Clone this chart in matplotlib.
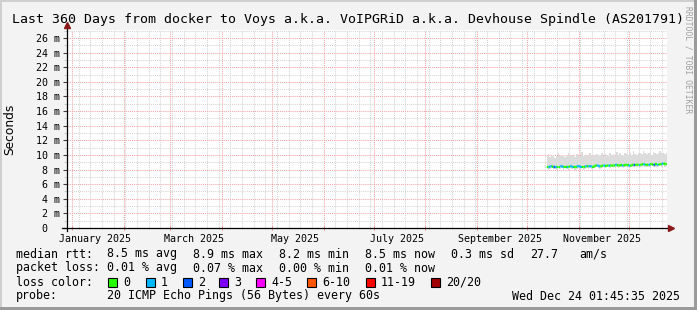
import numpy as np
import pandas as pd
import matplotlib
matplotlib.use("Agg")
import matplotlib.pyplot as plt
import matplotlib.dates as mdates
from matplotlib.collections import LineCollection
from matplotlib.patches import Rectangle

W, H = 697, 310
MONO = "DejaVu Sans Mono"

# time window of the graph
t_start = pd.Timestamp("2024-12-29 01:45:35")
t_end = pd.Timestamp("2025-12-24 01:45:35")
data_start = "2025-10-13"

# daily median rtt (ms), smoke extent (ms) and loss class per day
median_ms = [8.4, 8.3, 8.4, 8.5, 8.3, 8.4, 8.3, 8.4, 8.4, 8.5,
             8.3, 8.4, 8.4, 8.3, 8.5, 8.4, 8.4, 8.3, 8.4, 8.5,
             8.4, 8.4, 8.3, 8.4, 8.5, 8.4, 8.5, 8.4, 8.4, 8.5,
             8.6, 8.5, 8.4, 8.5, 8.6, 8.5, 8.5, 8.6, 8.5, 8.6,
             8.5, 8.6, 8.7, 8.5, 8.6, 8.6, 8.5, 8.7, 8.6, 8.6,
             8.5, 8.6, 8.7, 8.6, 8.7, 8.6, 8.6, 8.7, 8.8, 8.6,
             8.7, 8.6, 8.7, 8.8, 8.6, 8.7, 8.7, 8.6, 8.8, 8.7,
             8.9, 8.7, 8.8]
smoke_hi = [9.8, 10.1, 9.7, 9.9, 10.0, 9.6, 9.9, 10.2, 9.8, 9.9,
            10.0, 9.7, 9.9, 10.3, 9.8, 9.9, 10.0, 9.7, 10.1, 9.9,
            9.8, 10.4, 9.9, 10.0, 9.8, 9.9, 10.2, 9.9, 10.0, 9.8,
            10.1, 9.9, 10.0, 10.3, 9.9, 10.1, 10.0, 9.8, 10.2, 10.0,
            10.1, 9.9, 10.4, 10.0, 10.2, 10.0, 9.9, 10.3, 10.1, 10.0,
            10.2, 10.0, 10.5, 10.1, 10.0, 10.2, 10.3, 10.1, 10.6, 10.2,
            10.1, 10.3, 10.2, 10.0, 10.4, 10.2, 10.1, 10.3, 10.5, 10.2,
            10.3, 10.1, 10.2]
smoke_lo = [8.1, 8.0, 8.1, 8.2, 8.1, 8.1, 8.0, 8.2, 8.1, 8.2,
            8.0, 8.2, 8.1, 8.0, 8.2, 8.1, 8.2, 8.0, 8.1, 8.2,
            8.1, 8.2, 8.0, 8.1, 8.2, 8.1, 8.2, 8.1, 8.2, 8.2,
            8.3, 8.2, 8.1, 8.2, 8.3, 8.2, 8.3, 8.3, 8.2, 8.3,
            8.2, 8.3, 8.4, 8.2, 8.3, 8.3, 8.2, 8.4, 8.3, 8.3,
            8.2, 8.3, 8.4, 8.3, 8.4, 8.3, 8.3, 8.4, 8.5, 8.3,
            8.4, 8.3, 8.4, 8.5, 8.3, 8.4, 8.4, 8.3, 8.5, 8.4,
            8.6, 8.4, 8.5]
loss_class = [1, 0, 1, 1, 0, 2, 1, 0, 0, 1,
              1, 0, 0, 1, 0, 1, 1, 0, 0, 1,
              1, 1, 0, 0, 1, 0, 1, 1, 0, 0,
              0, 1, 1, 0, 0, 1, 0, 0, 1, 0,
              0, 0, 1, 0, 0, 0, 1, 0, 0, 0,
              1, 0, 0, 2, 0, 0, 1, 0, 0, 1,
              0, 0, 1, 0, 0, 2, 0, 1, 0, 0,
              1, 0, 0]

loss_labels = ["0", "1", "2", "3", "4-5", "6-10", "11-19", "20/20"]
loss_colors = ["#26ff00", "#00b8ff", "#0059ff", "#7e00ff",
               "#ff00ff", "#ff5500", "#ff0000", "#a00000"]

month_labels = ["January 2025", "March 2025", "May 2025",
                "July 2025", "September 2025", "November 2025"]
month_label_dates = ["2025-01-15", "2025-03-15", "2025-05-15",
                     "2025-07-15", "2025-09-15", "2025-11-15"]

yticks = list(range(0, 27, 2))
ytick_labels = ["0  "] + [f"{v} m" for v in yticks[1:]]

title = "Last 360 Days from docker to Voys a.k.a. VoIPGRiD a.k.a. Devhouse Spindle (AS201791)"


def fx(x):
    return x / W


def fy(y):
    return 1 - y / H


fig = plt.figure(figsize=(W / 100, H / 100), dpi=100, facecolor="#f3f3f3")

# bevelled frame
fig.patches.append(Rectangle((0, fy(2)), 1, 2 / H, transform=fig.transFigure,
                             facecolor="#cfcfcf", edgecolor="none"))
fig.patches.append(Rectangle((0, 0), 2 / W, 1, transform=fig.transFigure,
                             facecolor="#cfcfcf", edgecolor="none"))
fig.patches.append(Rectangle((1 - 3 / W, 0), 3 / W, 1, transform=fig.transFigure,
                             facecolor="#9a9a9a", edgecolor="none"))
fig.patches.append(Rectangle((0, 0), 1, 3 / H, transform=fig.transFigure,
                             facecolor="#9a9a9a", edgecolor="none"))

ax = fig.add_axes([fx(67), fy(228), 600 / W, 198 / H])
ax.set_facecolor("white")

dates = pd.date_range(data_start, periods=len(median_ms), freq="D")
xd = mdates.date2num(dates)

# smoke
ax.fill_between(xd, smoke_lo, smoke_hi, step="mid", color="#dcdcdc", lw=0, zorder=2)

# median line coloured by loss
pts = np.column_stack([xd, median_ms])
segs = np.stack([pts[:-1], pts[1:]], axis=1)
seg_colors = [loss_colors[c] for c in loss_class[1:]]
ax.add_collection(LineCollection(segs, colors=seg_colors, linewidths=1.6, zorder=3))

ax.set_xlim(mdates.date2num(t_start), mdates.date2num(t_end))
ax.set_ylim(0, 27.1)

ax.xaxis.set_major_locator(mdates.MonthLocator())
ax.xaxis.set_minor_locator(mdates.WeekdayLocator(byweekday=mdates.SU))
ax.xaxis.set_major_formatter(plt.NullFormatter())
ax.set_yticks(yticks)
ax.set_yticklabels(ytick_labels, family=MONO, fontsize=7.2)
ax.set_yticks(range(0, 28), minor=True)

ax.set_axisbelow(True)
ax.grid(which="minor", color="#d4d4d4", linestyle=(0, (1, 1)), lw=0.75)
ax.grid(which="major", color="#f4a4a4", linestyle=(0, (1, 1)), lw=0.75)
ax.tick_params(which="major", axis="y", length=3, width=0.8, color="#404040", pad=2)
ax.tick_params(which="minor", axis="y", length=2, width=0.6, color="#c0c0c0")
ax.tick_params(which="major", axis="x", length=3, width=0.7, color="#e08080", direction="inout")
ax.tick_params(which="minor", axis="x", length=2, width=0.6, color="#c0c0c0", direction="inout")

for s in ax.spines.values():
    s.set_visible(False)

# axes with arrows
ax.plot([-5 / 600, 1 + 1 / 600], [0, 0], transform=ax.transAxes, clip_on=False,
        color="black", lw=0.9, zorder=5)
ax.plot([0, 0], [-3 / 198, 1 + 4 / 198], transform=ax.transAxes, clip_on=False,
        color="black", lw=0.9, zorder=5)
ax.plot([1 + 4 / 600], [0], marker=">", ms=4.5, color="#8b1a1a", transform=ax.transAxes,
        clip_on=False, zorder=6)
ax.plot([0], [1 + 5 / 198], marker="^", ms=4.5, color="#8b1a1a", transform=ax.transAxes,
        clip_on=False, zorder=6)

sec = ax.secondary_xaxis("bottom")
sec.set_xticks(mdates.date2num(pd.to_datetime(month_label_dates)))
sec.set_xticklabels(month_labels, family=MONO, fontsize=7.2)
sec.tick_params(length=0, pad=4)
for s in sec.spines.values():
    s.set_visible(False)

ax.set_ylabel("Seconds", fontsize=8.8)
ax.yaxis.set_label_coords(-51 / 600, 0.5)

fig.text(0.5, fy(19), title, ha="center", va="center", family=MONO, fontsize=9.5)
fig.text(fx(688), fy(60), "RRDTOOL / TOBI OETIKER", rotation=270, ha="center",
         va="center", family=MONO, fontsize=5.8, color="#a0a0a0")

# legend
fs = 8.4
def put(x, y, s, **kw):
    fig.text(fx(x), fy(y), s, ha=kw.pop("ha", "left"), va="center", family=MONO,
             fontsize=fs, **kw)

put(16, 254, "median rtt:")
for x, s in [(107, "8.5 ms avg"), (193, "8.9 ms max"), (279, "8.2 ms min"),
             (365, "8.5 ms now"), (451, "0.3 ms sd"), (530, "27.7"), (579, "am/s")]:
    put(x, 254, s)
put(16, 268, "packet loss:")
for x, s in [(107, "0.01 % avg"), (193, "0.07 % max"), (279, "0.00 % min"),
             (365, "0.01 % now")]:
    put(x, 268, s)
put(16, 282, "loss color:")
box_x = [108, 146, 183, 219, 256, 307, 366, 431]
for bx, lab, col in zip(box_x, loss_labels, loss_colors):
    fig.patches.append(Rectangle((fx(bx), fy(287)), 9 / W, 9 / H, transform=fig.transFigure,
                                 facecolor=col, edgecolor="black", lw=0.8))
    put(bx + 15, 282, lab)
put(16, 296, "probe:")
put(107, 296, "20 ICMP Echo Pings (56 Bytes) every 60s")
put(680, 296, "Wed Dec 24 01:45:35 2025", ha="right")

fig.savefig("out.png", dpi=100, facecolor=fig.get_facecolor())
